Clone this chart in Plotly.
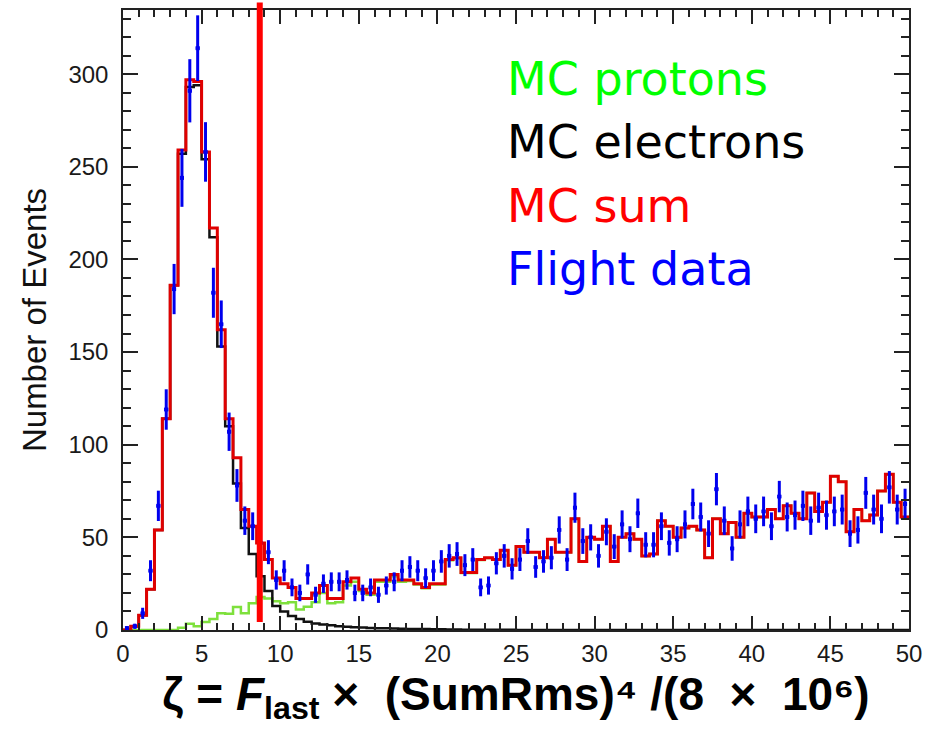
import numpy as np
import plotly.graph_objects as go

# Histogram binning: 100 bins of width 0.5 on [0, 50]
BIN_WIDTH = 0.5
N_BINS = 100

# Flight data counts per bin
flight_data = [
    1, 2, 9, 32, 67, 119, 184, 244, 291, 314,
    258, 182, 165, 107, 78, 59, 56, 47, 42, 27,
    32, 23, 20, 30, 19, 25, 26, 26, 27, 20,
    20, 23, 19, 24, 26, 32, 34, 32, 28, 32,
    37, 40, 41, 35, 38, 23, 24, 36, 40, 33,
    38, 48, 34, 37, 39, 54, 38, 66, 48, 50,
    40, 53, 45, 57, 49, 63, 46, 46, 56, 47,
    49, 57, 68, 61, 52, 76, 59, 44, 57, 64,
    60, 64, 56, 72, 61, 62, 67, 59, 66, 62,
    64, 65, 52, 54, 74, 65, 60, 77, 65, 68,
]

# MC sum (protons + electrons)
mc_sum = [
    0, 2, 8, 22, 54, 114, 186, 259, 297, 296,
    258, 217, 162, 114, 93, 65, 56, 47, 38, 28,
    25, 23, 17, 17, 20, 24, 17, 17, 26, 28,
    22, 20, 27, 27, 30, 27, 27, 25, 23, 25,
    25, 38, 39, 31, 31, 38, 39, 38, 43, 35,
    45, 42, 42, 39, 49, 42, 42, 60, 37, 50,
    49, 56, 37, 50, 52, 49, 40, 41, 59, 56,
    50, 55, 56, 54, 39, 60, 52, 58, 50, 63,
    61, 61, 65, 60, 67, 63, 60, 74, 64, 69,
    83, 80, 53, 65, 59, 62, 75, 84, 69, 61,
]

# MC electrons
mc_electrons = [
    0, 2, 8, 22, 54, 114, 186, 257, 293, 294,
    254, 212, 153, 110, 79, 55, 41, 29, 21, 13,
    10, 7.5, 6, 4.5, 3.5, 3, 2.5, 2, 1.8, 1.5,
    1.3, 1.1, 1.0, 0.9, 0.8, 0.7, 0.6, 0.5, 0.5, 0.4,
    0.4, 0.3, 0.3, 0.2, 0.2, 0.2, 0.1, 0.1, 0.1, 0.1,
    0, 0, 0, 0, 0, 0, 0, 0, 0, 0,
    0, 0, 0, 0, 0, 0, 0, 0, 0, 0,
    0, 0, 0, 0, 0, 0, 0, 0, 0, 0,
    0, 0, 0, 0, 0, 0, 0, 0, 0, 0,
    0, 0, 0, 0, 0, 0, 0, 0, 0, 0,
]

# MC protons
mc_protons = [
    0, 0, 0, 0, 0, 0, 0, 1.2, 3.4, 2,
    4.3, 6, 9, 8.8, 12.4, 9, 14.5, 17.8, 17, 15.5,
    14.5, 15, 11, 12.5, 15, 20, 14.5, 15, 24, 26,
    21, 19, 26, 26, 29, 26, 26.5, 24.5, 22.5, 24.6,
    24.6, 37.7, 38.7, 30.8, 30.8, 37.8, 38.9, 37.9, 42.9, 34.9,
    45, 42, 42, 39, 49, 42, 42, 60, 37, 50,
    49, 56, 37, 50, 52, 49, 40, 41, 59, 56,
    50, 55, 56, 54, 39, 60, 52, 58, 50, 63,
    61, 61, 65, 60, 67, 63, 60, 74, 64, 69,
    83, 80, 53, 65, 59, 62, 75, 84, 69, 61,
]

# Selection cut on zeta
CUT_VALUE = 8.7

legend_labels = ["MC protons", "MC electrons", "MC sum", "Flight data"]
legend_colors = ["#00ff00", "#000000", "#ff0000", "#0000ff"]

X_RANGE = [0, 50]
Y_RANGE = [0, 334.6]

W, H = 925, 730
M_L, M_R, M_T, M_B = 123, 16, 10, 100
PW, PH = W - M_L - M_R, H - M_T - M_B

edges = np.arange(N_BINS + 1) * BIN_WIDTH
centers = edges[:-1] + BIN_WIDTH / 2


def step_trace(values, color, width):
    vals = list(values) + [values[-1]]
    return go.Scatter(
        x=edges, y=vals, mode="lines", line_shape="hv",
        line=dict(color=color, width=width), hoverinfo="skip", showlegend=False,
    )


fig = go.Figure()
fig.add_trace(step_trace(mc_protons, "#7ee03c", 2.5))
fig.add_trace(step_trace(mc_electrons, "#111111", 2.5))
fig.add_trace(step_trace(mc_sum, "#e00000", 3))

data = np.array(flight_data, dtype=float)
fig.add_trace(go.Scatter(
    x=centers, y=data, mode="markers",
    marker=dict(color="#0000ee", size=4, symbol="square"),
    error_y=dict(type="data", array=np.sqrt(data), color="#0000ee", thickness=3, width=0),
    error_x=dict(type="constant", value=BIN_WIDTH / 4, color="#0000ee", thickness=3, width=0),
    hoverinfo="skip", showlegend=False,
))

# Vertical cut line
fig.add_shape(
    type="line", xref="x", yref="paper",
    x0=CUT_VALUE, x1=CUT_VALUE, y0=0.013, y1=1.012,
    line=dict(color="#ff0000", width=6),
)

# Coloured text legend
legend_y_px = [79, 142, 206, 269]
for label, color, ypx in zip(legend_labels, legend_colors, legend_y_px):
    fig.add_annotation(
        text=label, xref="paper", yref="paper",
        x=(505 - M_L) / PW, y=(H - M_B - ypx) / PH,
        xanchor="left", yanchor="middle", showarrow=False,
        font=dict(family="DejaVu Sans", size=46, color=color),
    )

tick_font = dict(family="Liberation Sans, Arial", size=24, color="#1a1a1a")
axis_common = dict(
    showline=True, linecolor="#222222", linewidth=1.5, mirror="allticks",
    ticks="inside", tickcolor="#222222", tickwidth=1.5,
    showgrid=False, zeroline=False, tickfont=tick_font,
)

fig.update_xaxes(
    range=X_RANGE, dtick=5, tick0=0, ticklen=14, ticklabelstandoff=1,
    minor=dict(dtick=1, ticklen=7, ticks="inside", tickcolor="#222222", tickwidth=1.5, showgrid=False),
    title=dict(
        text="<b>ζ = <i>F</i><sub>last</sub> ×\u00a0 (SumRms)\u2074 /(8 \u00a0×\u00a0 10\u2076)</b>",
        font=dict(family="Liberation Sans, Arial", size=46, color="#000000"),
        standoff=12,
    ),
    **axis_common,
)
fig.update_yaxes(
    range=Y_RANGE, dtick=50, tick0=0, ticklen=15, ticklabelstandoff=8,
    minor=dict(dtick=10, ticklen=8, ticks="inside", tickcolor="#222222", tickwidth=1.5, showgrid=False),
    title=dict(
        text="Number of Events",
        font=dict(family="Liberation Sans, Arial", size=33, color="#111111"),
        standoff=12,
    ),
    **axis_common,
)

fig.update_layout(
    width=W, height=H,
    margin=dict(l=M_L, r=M_R, t=M_T, b=M_B, autoexpand=False),
    plot_bgcolor="white", paper_bgcolor="white",
    showlegend=False,
)

fig.write_html("out.html")
